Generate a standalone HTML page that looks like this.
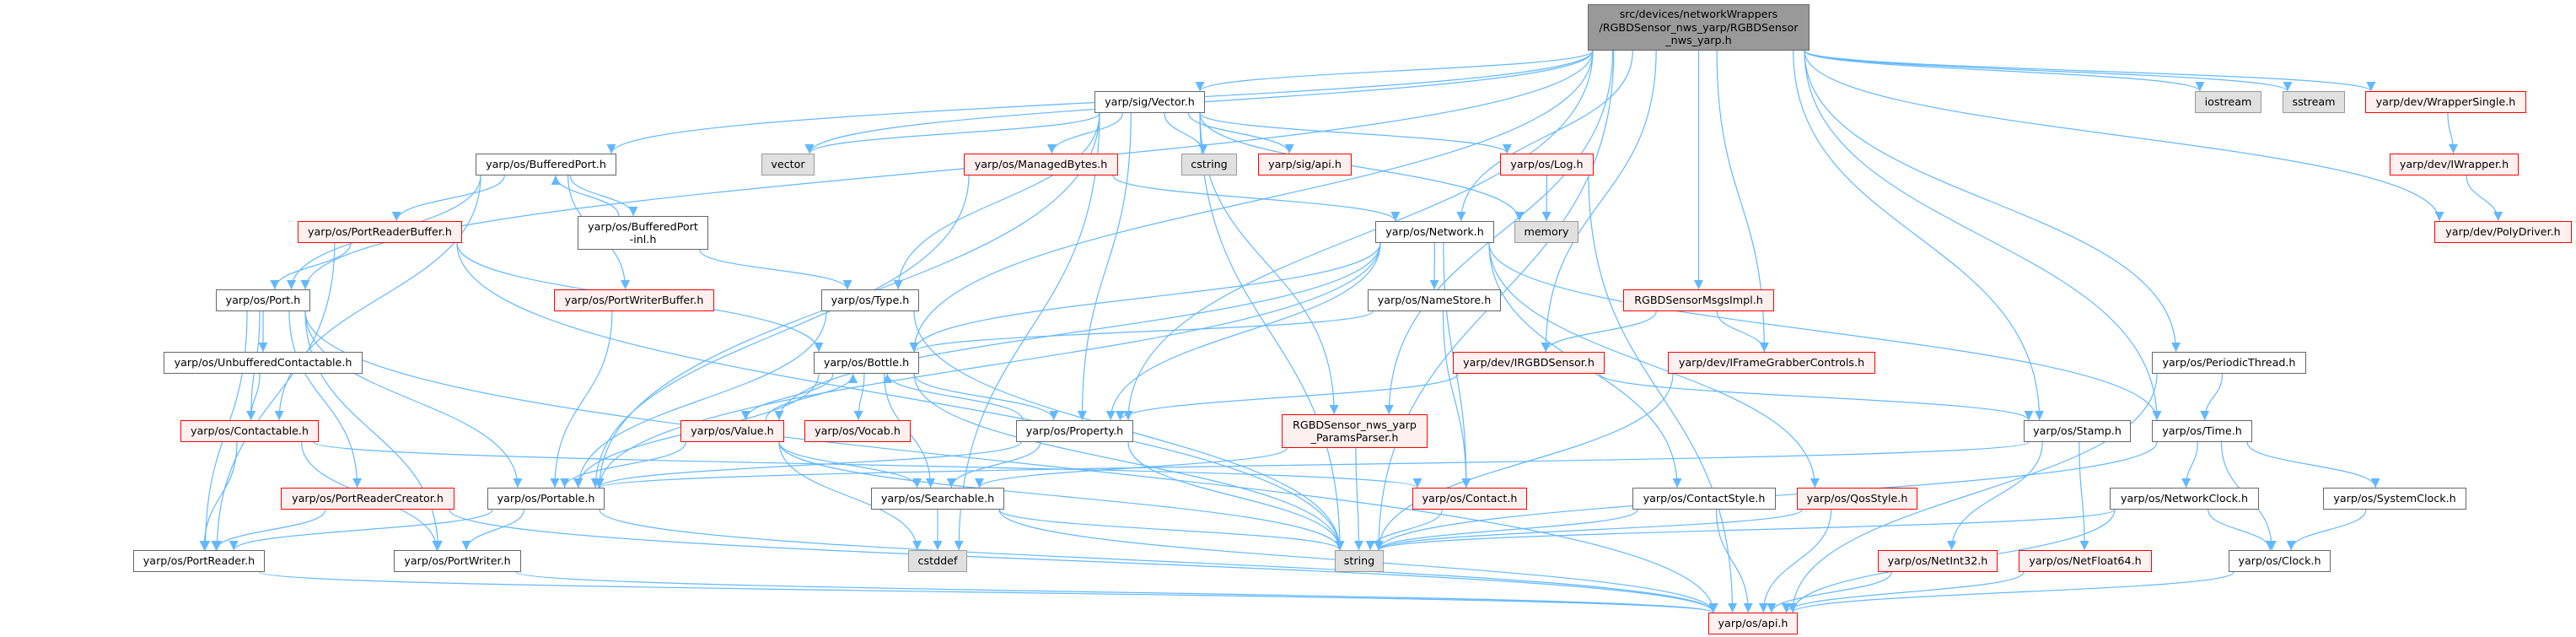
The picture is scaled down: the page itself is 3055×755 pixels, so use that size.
<!DOCTYPE html>
<html><head><meta charset="utf-8">
<style>
html,body{margin:0;padding:0;background:#fff;}
#c{position:relative;width:3055px;height:755px;overflow:hidden;background:#fff;}
svg{position:absolute;left:0;top:0;}
.n{position:absolute;box-sizing:border-box;border:1.4px solid #666;background:#fff;font-family:"DejaVu Sans","Liberation Sans",sans-serif;font-size:12.7px;color:#000;display:flex;align-items:center;justify-content:center;text-align:center;line-height:15.5px;white-space:nowrap;}
.r{border-color:#f00;background:#fff0f0;}
.g{border-color:#999;background:#e0e0e0;}
.m{border-color:#666;background:#999;}
</style></head><body><div id="c">
<svg id="s" width="3055" height="755" viewBox="0 0 3055 755">
<defs><marker id="a" viewBox="0 0 10 10" refX="10" refY="5" markerWidth="11" markerHeight="11" markerUnits="userSpaceOnUse" orient="auto"><path d="M0,0 L10,5 L0,10 z" fill="#63b8ff"/></marker></defs>
<g id="e" fill="none" stroke="#63b8ff" stroke-width="1.2"></g>
</svg>
<div class="n m" id="main" style="left:1883px;top:5px;width:263px;height:55px">src/devices/networkWrappers<br>/RGBDSensor_nws_yarp/RGBDSensor<br>_nws_yarp.h</div>
<div class="n" id="vec" style="left:1298px;top:108px;width:131px;height:26px">yarp/sig/Vector.h</div>
<div class="n g" id="iostream" style="left:2603px;top:108px;width:79px;height:26px">iostream</div>
<div class="n g" id="sstream" style="left:2707px;top:108px;width:74px;height:26px">sstream</div>
<div class="n r" id="ws" style="left:2805px;top:108px;width:191px;height:26px">yarp/dev/WrapperSingle.h</div>
<div class="n" id="bp" style="left:564px;top:182px;width:167px;height:26px">yarp/os/BufferedPort.h</div>
<div class="n g" id="vector" style="left:903px;top:182px;width:63px;height:26px">vector</div>
<div class="n r" id="mb" style="left:1143px;top:182px;width:183px;height:26px">yarp/os/ManagedBytes.h</div>
<div class="n g" id="cstring" style="left:1401px;top:182px;width:66px;height:26px">cstring</div>
<div class="n r" id="sapi" style="left:1492px;top:182px;width:111px;height:26px">yarp/sig/api.h</div>
<div class="n r" id="log" style="left:1779px;top:182px;width:111px;height:26px">yarp/os/Log.h</div>
<div class="n r" id="iw" style="left:2834px;top:182px;width:153px;height:26px">yarp/dev/IWrapper.h</div>
<div class="n r" id="prb" style="left:353px;top:262px;width:195px;height:26px">yarp/os/PortReaderBuffer.h</div>
<div class="n" id="inl" style="left:685px;top:256px;width:155px;height:40px">yarp/os/BufferedPort<br>-inl.h</div>
<div class="n" id="net" style="left:1631px;top:262px;width:141px;height:26px">yarp/os/Network.h</div>
<div class="n g" id="memory" style="left:1796px;top:262px;width:76px;height:26px">memory</div>
<div class="n r" id="pd" style="left:2887px;top:262px;width:163px;height:26px">yarp/dev/PolyDriver.h</div>
<div class="n" id="port" style="left:256px;top:343px;width:112px;height:26px">yarp/os/Port.h</div>
<div class="n r" id="pwb" style="left:657px;top:343px;width:190px;height:26px">yarp/os/PortWriterBuffer.h</div>
<div class="n" id="type" style="left:974px;top:343px;width:116px;height:26px">yarp/os/Type.h</div>
<div class="n" id="ns" style="left:1622px;top:343px;width:158px;height:26px">yarp/os/NameStore.h</div>
<div class="n r" id="msgs" style="left:1925px;top:343px;width:179px;height:26px">RGBDSensorMsgsImpl.h</div>
<div class="n" id="uc" style="left:194px;top:417px;width:236px;height:26px">yarp/os/UnbufferedContactable.h</div>
<div class="n" id="bottle" style="left:965px;top:417px;width:125px;height:26px">yarp/os/Bottle.h</div>
<div class="n r" id="irgbd" style="left:1723px;top:417px;width:180px;height:26px">yarp/dev/IRGBDSensor.h</div>
<div class="n r" id="ifg" style="left:1978px;top:417px;width:246px;height:26px">yarp/dev/IFrameGrabberControls.h</div>
<div class="n" id="pt" style="left:2552px;top:417px;width:183px;height:26px">yarp/os/PeriodicThread.h</div>
<div class="n r" id="cont" style="left:214px;top:498px;width:164px;height:26px">yarp/os/Contactable.h</div>
<div class="n r" id="val" style="left:807px;top:498px;width:123px;height:26px">yarp/os/Value.h</div>
<div class="n r" id="vocab" style="left:954px;top:498px;width:126px;height:26px">yarp/os/Vocab.h</div>
<div class="n" id="prop" style="left:1205px;top:498px;width:139px;height:26px">yarp/os/Property.h</div>
<div class="n r" id="pp" style="left:1520px;top:491px;width:173px;height:40px">RGBDSensor_nws_yarp<br>_ParamsParser.h</div>
<div class="n" id="stamp" style="left:2400px;top:498px;width:127px;height:26px">yarp/os/Stamp.h</div>
<div class="n" id="time" style="left:2552px;top:498px;width:119px;height:26px">yarp/os/Time.h</div>
<div class="n r" id="prc" style="left:333px;top:578px;width:206px;height:26px">yarp/os/PortReaderCreator.h</div>
<div class="n" id="portable" style="left:578px;top:578px;width:139px;height:26px">yarp/os/Portable.h</div>
<div class="n" id="search" style="left:1033px;top:578px;width:158px;height:26px">yarp/os/Searchable.h</div>
<div class="n r" id="contact" style="left:1675px;top:578px;width:136px;height:26px">yarp/os/Contact.h</div>
<div class="n" id="cs" style="left:1936px;top:578px;width:170px;height:26px">yarp/os/ContactStyle.h</div>
<div class="n r" id="qos" style="left:2131px;top:578px;width:143px;height:26px">yarp/os/QosStyle.h</div>
<div class="n" id="nc" style="left:2502px;top:578px;width:177px;height:26px">yarp/os/NetworkClock.h</div>
<div class="n" id="sc" style="left:2755px;top:578px;width:170px;height:26px">yarp/os/SystemClock.h</div>
<div class="n" id="pr" style="left:158px;top:652px;width:156px;height:26px">yarp/os/PortReader.h</div>
<div class="n" id="pw" style="left:467px;top:652px;width:151px;height:26px">yarp/os/PortWriter.h</div>
<div class="n g" id="cstddef" style="left:1077px;top:652px;width:70px;height:26px">cstddef</div>
<div class="n g" id="string" style="left:1583px;top:652px;width:58px;height:26px">string</div>
<div class="n r" id="ni" style="left:2227px;top:652px;width:142px;height:26px">yarp/os/NetInt32.h</div>
<div class="n r" id="nf" style="left:2394px;top:652px;width:158px;height:26px">yarp/os/NetFloat64.h</div>
<div class="n" id="clock" style="left:2643px;top:652px;width:121px;height:26px">yarp/os/Clock.h</div>
<div class="n r" id="api" style="left:2026px;top:726px;width:106px;height:26px">yarp/os/api.h</div>
</div>
<script>
var E=[["main","vector"],["main","bp"],["main","port"],["main","bottle"],["main","prop"],["main","net"],["main","vec"],["main","irgbd"],["main","msgs"],["main","ifg"],["main","pp"],["main","string"],["main","stamp"],["main","time"],["main","pt"],["main","iostream"],["main","sstream"],["main","ws"],["main","pd"],
["bp","port"],["bp","prb"],["bp","cont"],["bp","inl"],["bp","pwb"],["inl","bp"],["inl","type"],
["prb","port"],["prb","pr"],["prb","bottle"],["prb","string"],
["port","uc"],["port","pr"],["port","pw"],["port","portable"],["port","prc"],["port","api"],["port","cont"],
["uc","cont"],["cont","pr"],["cont","pw"],["cont","contact"],["prc","pr"],["prc","api"],["pwb","portable"],
["portable","pr"],["portable","pw"],["portable","api"],["pr","api"],["pw","api"],
["type","portable"],["type","string"],
["bottle","portable"],["bottle","val"],["bottle","vocab"],["bottle","prop"],["bottle","search"],["bottle","string"],
["val","bottle"],["val","portable"],["val","search"],["val","string"],["val","cstddef"],
["prop","bottle"],["prop","portable"],["prop","search"],["prop","string"],
["search","cstddef"],["search","string"],["search","api"],
["vec","mb"],["vec","cstring"],["vec","sapi"],["vec","log"],["vec","memory"],["vec","vector"],["vec","type"],["vec","portable"],["vec","string"],["vec","cstddef"],["vec","prop"],["vec","pp"],
["mb","portable"],["mb","net"],["log","memory"],["log","api"],
["net","ns"],["net","contact"],["net","cs"],["net","qos"],["net","time"],["net","portable"],["net","bottle"],["net","val"],["net","prop"],
["ns","bottle"],["ns","contact"],["msgs","irgbd"],["msgs","ifg"],["irgbd","prop"],["irgbd","stamp"],["ifg","string"],
["pp","search"],["pp","string"],["contact","string"],["cs","string"],["cs","api"],["qos","string"],["qos","api"],
["stamp","portable"],["stamp","ni"],["stamp","nf"],["time","string"],["time","nc"],["time","sc"],["time","clock"],
["nc","string"],["nc","clock"],["nc","api"],["sc","clock"],["clock","api"],["ni","api"],["nf","api"],["pt","time"],["pt","api"],
["ws","iw"],["iw","pd"]];
function B(id){var d=document.getElementById(id);var x=d.offsetLeft,y=d.offsetTop;return{x1:x,y1:y,x2:x+d.offsetWidth,y2:y+d.offsetHeight,cx:x+d.offsetWidth/2};}
var g=document.getElementById("e"),s="";
E.forEach(function(p){var a=B(p[0]),b=B(p[1]),sx,sy,tx,ty;
var hw=(a.x2-a.x1)/2-6,off=Math.max(-hw,Math.min(hw,(b.cx-a.cx)*0.25));
var hb=(b.x2-b.x1)/2-6,offb=Math.max(-hb,Math.min(hb,(a.cx-b.cx)*0.1));
if(b.y1>a.y2){sx=a.cx+off;sy=a.y2;tx=b.cx+offb;ty=b.y1;}
else if(b.y2<a.y1){sx=a.cx+off;sy=a.y1;tx=b.cx+offb;ty=b.y2;}
else{sy=(a.y1+a.y2)/2;ty=(b.y1+b.y2)/2;if(b.x1>a.x2){sx=a.x2;tx=b.x1;}else{sx=a.x1;tx=b.x2;}
s+='<path marker-end="url(#a)" d="M'+sx+','+sy+' C'+((sx+tx)/2)+','+sy+' '+((sx+tx)/2)+','+ty+' '+tx+','+ty+'"/>';return;}
var my=(sy+ty)/2;
s+='<path marker-end="url(#a)" d="M'+sx+','+sy+' C'+sx+','+my+' '+tx+','+my+' '+tx+','+ty+'"/>';});
g.innerHTML=s;
</script>
</body></html>
